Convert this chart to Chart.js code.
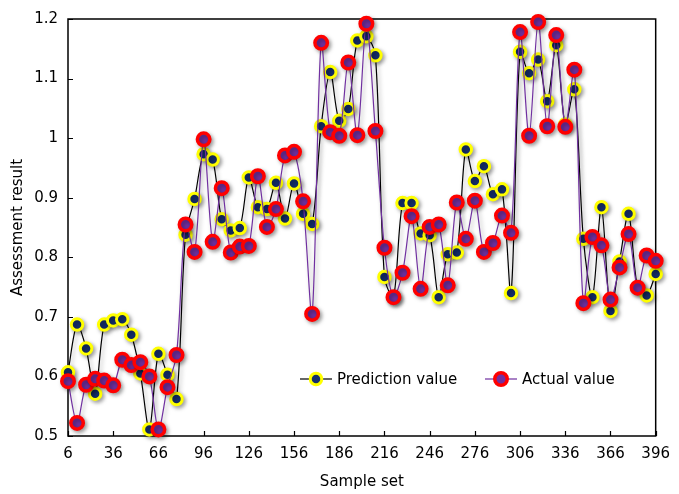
<!DOCTYPE html>
<html>
<head>
<meta charset="utf-8">
<script src="https://cdn.jsdelivr.net/npm/chart.js@4.4.1/dist/chart.umd.min.js"></script>
<style>
  html, body { margin: 0; padding: 0; background: #fff; }
  #wrap { width: 679px; height: 494px; }
</style>
</head>
<body>
<div id="wrap"><canvas id="assess"></canvas></div>
<script>
const sampleSet = [6, 12, 18, 24, 30, 36, 42, 48, 54, 60, 66, 72, 78, 84, 90, 96, 102, 108, 114, 120,
  126, 132, 138, 144, 150, 156, 162, 168, 174, 180, 186, 192, 198, 204, 210, 216, 222, 228, 234, 240,
  246, 252, 258, 264, 270, 276, 282, 288, 294, 300, 306, 312, 318, 324, 330, 336, 342, 348, 354, 360,
  366, 372, 378, 384, 390, 396];

const predictionValue = [0.607, 0.687, 0.647, 0.571, 0.687, 0.694, 0.696, 0.670, 0.605, 0.511,
  0.638, 0.603, 0.562, 0.838, 0.898, 0.973, 0.964, 0.864, 0.845, 0.849,
  0.934, 0.884, 0.881, 0.925, 0.865, 0.924, 0.873, 0.856, 1.020, 1.111,
  1.029, 1.049, 1.164, 1.171, 1.139, 0.767, 0.733, 0.891, 0.891, 0.840,
  0.837, 0.733, 0.805, 0.808, 0.981, 0.928, 0.953, 0.906, 0.914, 0.740,
  1.145, 1.109, 1.132, 1.062, 1.156, 1.023, 1.082, 0.831, 0.733, 0.884,
  0.710, 0.793, 0.873, 0.749, 0.736, 0.772];

const actualValue = [0.592, 0.522, 0.586, 0.596, 0.593, 0.585, 0.628, 0.619, 0.624, 0.600,
  0.511, 0.582, 0.636, 0.855, 0.809, 0.998, 0.826, 0.916, 0.808, 0.818,
  0.819, 0.936, 0.851, 0.881, 0.971, 0.977, 0.894, 0.705, 1.160, 1.010,
  1.004, 1.127, 1.005, 1.192, 1.012, 0.816, 0.733, 0.774, 0.869, 0.747,
  0.851, 0.855, 0.753, 0.892, 0.831, 0.895, 0.809, 0.824, 0.870, 0.841,
  1.178, 1.004, 1.195, 1.020, 1.173, 1.019, 1.115, 0.723, 0.834, 0.820,
  0.729, 0.783, 0.839, 0.749, 0.803, 0.794];

const xTicks = [6, 36, 66, 96, 126, 156, 186, 216, 246, 276, 306, 336, 366, 396];
const yTicks = [0.5, 0.6, 0.7, 0.8, 0.9, 1.0, 1.1, 1.2];

const FONT = 'DejaVu Sans, Verdana, sans-serif';
const navy = '#142f6e', yellow = '#ffff00';
const purple = '#7030a0', red = '#ff0000';

const toPoints = (ys) => ys.map((y, i) => ({ x: sampleSet[i], y: y }));

// frame box + inward ticks, drawn under the data; then a soft shadow for the marks
const framePlugin = {
  id: 'frame',
  beforeDatasetsDraw(chart) {
    const { ctx, chartArea: a, scales } = chart;
    ctx.save();
    ctx.strokeStyle = '#000';
    ctx.lineWidth = 1.5;
    ctx.strokeRect(a.left, a.top, a.right - a.left, a.bottom - a.top);
    ctx.lineWidth = 1.2;
    ctx.beginPath();
    xTicks.forEach(v => {
      const px = Math.round(scales.x.getPixelForValue(v)) + 0.5;
      ctx.moveTo(px, a.bottom);
      ctx.lineTo(px, a.bottom - 5);
    });
    yTicks.forEach(v => {
      const py = Math.round(scales.y.getPixelForValue(v)) + 0.5;
      ctx.moveTo(a.left, py);
      ctx.lineTo(a.left + 5, py);
    });
    ctx.stroke();
    ctx.restore();

    ctx.save();
    ctx.shadowColor = 'rgba(0,0,0,0.35)';
    ctx.shadowBlur = 4;
    ctx.shadowOffsetX = 2;
    ctx.shadowOffsetY = 2;
  },
  afterDatasetsDraw(chart) {
    chart.ctx.restore();
  }
};

// legend sits inside the plot, lower right
const legendPlugin = {
  id: 'insideLegend',
  afterDraw(chart) {
    const ctx = chart.ctx;
    const items = [
      { text: 'Prediction value', line: '#000', fill: navy, edge: yellow, r: 5.75, w: 3, x: 300 },
      { text: 'Actual value', line: purple, fill: purple, edge: red, r: 6.25, w: 3.5, x: 485 }
    ];
    const y = 379;
    ctx.save();
    items.forEach(it => {
      ctx.strokeStyle = it.line;
      ctx.lineWidth = 1.2;
      ctx.beginPath();
      ctx.moveTo(it.x, y);
      ctx.lineTo(it.x + 32, y);
      ctx.stroke();
      ctx.beginPath();
      ctx.arc(it.x + 16, y, it.r, 0, Math.PI * 2);
      ctx.fillStyle = it.fill;
      ctx.fill();
      ctx.lineWidth = it.w;
      ctx.strokeStyle = it.edge;
      ctx.stroke();
      ctx.fillStyle = '#000';
      ctx.font = '15px ' + FONT;
      ctx.textBaseline = 'middle';
      ctx.fillText(it.text, it.x + 37, y + 1);
    });
    ctx.restore();
  }
};

const assessConfig = {
  type: 'line',
  data: {
    datasets: [
      {
        label: 'Actual value',
        data: toPoints(actualValue),
        borderColor: purple,
        borderWidth: 1.2,
        tension: 0.3,
        clip: false,
        pointRadius: 6.25,
        pointBorderWidth: 3.5,
        pointBackgroundColor: purple,
        pointBorderColor: red
      },
      {
        label: 'Prediction value',
        data: toPoints(predictionValue),
        borderColor: '#000',
        borderWidth: 1.2,
        tension: 0.3,
        clip: false,
        pointRadius: 5.75,
        pointBorderWidth: 3,
        pointBackgroundColor: navy,
        pointBorderColor: yellow
      }
    ]
  },
  options: {
    responsive: true,
    maintainAspectRatio: false,
    animation: false,
    layout: { padding: { left: 0, right: 16, top: 15, bottom: 0 } },
    scales: {
      x: {
        type: 'linear',
        min: 6,
        max: 396,
        afterBuildTicks: (s) => { s.ticks = xTicks.map(v => ({ value: v })); },
        afterFit: (s) => { s.height = 58; },
        grid: { display: false, drawTicks: false },
        border: { display: false },
        ticks: { color: '#000', padding: 9, maxRotation: 0, autoSkip: false, font: { family: FONT, size: 15 } },
        title: { display: true, text: 'Sample set', color: '#000', padding: { top: 0, bottom: 3 }, font: { family: FONT, size: 15 } }
      },
      y: {
        min: 0.5,
        max: 1.2,
        afterBuildTicks: (s) => { s.ticks = yTicks.map(v => ({ value: v })); },
        afterFit: (s) => { s.width = 68; },
        grid: { display: false, drawTicks: false },
        border: { display: false },
        ticks: {
          color: '#000',
          padding: 10,
          font: { family: FONT, size: 15 },
          callback: (v) => String(+v.toFixed(1))
        },
        title: { display: true, text: 'Assessment result', color: '#000', padding: { top: 9, bottom: 0 }, font: { family: FONT, size: 15 } }
      }
    },
    plugins: {
      legend: { display: false },
      tooltip: { enabled: false }
    }
  },
  plugins: [framePlugin, legendPlugin]
};

new Chart('assess', assessConfig);
</script>
</body>
</html>
